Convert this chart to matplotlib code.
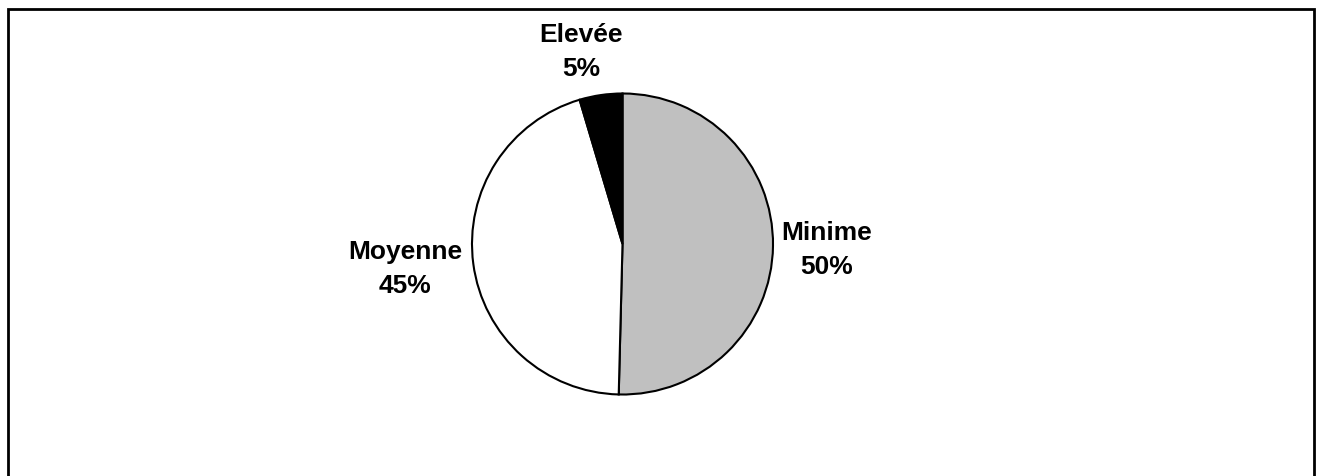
import matplotlib
matplotlib.use("Agg")
import matplotlib.pyplot as plt

categories = ["Minime", "Moyenne", "Elevée"]
values = [50.4, 45.0, 4.6]
colors = ["#C0C0C0", "#FFFFFF", "#000000"]

W, H = 1319, 477
fig = plt.figure(figsize=(W / 100, H / 100), dpi=100)
ax = fig.add_axes([0, 0, 1, 1])

cx, cy, r = 622.5, H - 245, 150.5
ax.pie(values, colors=colors, startangle=90, counterclock=False,
       center=(cx, cy), radius=r,
       wedgeprops=dict(edgecolor="black", linewidth=1.5))
ax.set_xlim(0, W)
ax.set_ylim(0, H)
ax.set_aspect("equal")
ax.axis("off")

label_pos = [(827, 250), (405, 269), (581, 52)]
for name, v, (x, y) in zip(categories, values, label_pos):
    ax.text(x, H - y, f"{name}\n{round(v):d}%", ha="center", va="center",
            fontsize=19, fontweight="bold", family="Liberation Sans",
            linespacing=1.48)

# outer frame (bottom edge cut off)
ax.plot([8.3, 8.3, 1314.3, 1314.3], [-5, H - 10.3, H - 10.3, -5],
        color="black", linewidth=2.0, solid_joinstyle="miter", clip_on=False)

fig.savefig("out.png", dpi=100)
